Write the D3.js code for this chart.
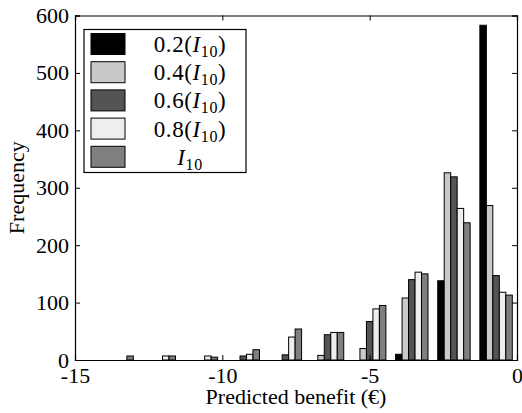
<!DOCTYPE html>
<html>
<head>
<meta charset="utf-8">
<script src="https://cdn.jsdelivr.net/npm/d3@7"></script>
<style>
  html, body { margin: 0; padding: 0; background: #fff; }
  svg { display: block; }
</style>
</head>
<body>
<svg id="chart" width="522" height="413" font-family="Liberation Serif, Times New Roman, serif"></svg>
<script>
// Histogram bin centres (predicted benefit, euro)
const binCenters = [-13.57, -12.14, -10.71, -9.29, -7.86, -6.43, -5.00, -3.57, -2.14, -0.71];
const binWidth = 10 / 7;

// Frequencies per bin for each threshold level
const seriesNames = ["0.2", "0.4", "0.6", "0.8", ""];
const freq02 = [0, 0, 0, 0, 0, 0, 0, 10, 138, 583];
const freq04 = [0, 0, 0, 0, 0, 8, 20, 108, 326, 269];
const freq06 = [0, 0, 0, 7, 9, 44, 67, 140, 319, 147];
const freq08 = [0, 7, 7, 10, 40, 48, 89, 153, 264, 118];
const freqI10 = [7, 7, 5, 18, 54, 48, 95, 150, 239, 113];
const seriesValues = [freq02, freq04, freq06, freq08, freqI10];
const seriesColors = ["#000000", "#c9c9c9", "#545454", "#eeeeee", "#7f7f7f"];

const xTicks = [-15, -10, -5, 0];
const yTicks = [0, 100, 200, 300, 400, 500, 600];

const W = 522, H = 413;
const margin = { left: 75, right: 5, top: 15.5, bottom: 53 };
const serif = "Liberation Serif, Times New Roman, serif";
const svg = d3.select("#chart");

const x = d3.scaleLinear().domain([-15, 0]).range([margin.left, W - margin.right]);
const y = d3.scaleLinear().domain([0, 600]).range([H - margin.bottom, margin.top]);

// grouped bars: group spans 0.77 of a bin, bars touch each other
const nSeries = seriesValues.length;
const barW = binWidth * 0.77 / nSeries;

const bars = svg.append("g");
seriesValues.forEach((vals, si) => {
  bars.selectAll(null)
    .data(vals.map((v, i) => ({ v, c: binCenters[i] })))
    .enter().append("rect")
    .attr("x", d => x(d.c + (si - (nSeries - 1) / 2) * barW - barW / 2))
    .attr("width", d => x(d.c + barW) - x(d.c))
    .attr("y", d => y(d.v))
    .attr("height", d => y(0) - y(d.v))
    .attr("fill", seriesColors[si])
    .attr("stroke", "#000")
    .attr("stroke-width", 1);
});

// axes with inward ticks on all four sides
const tickLen = 5;
const fs = 22;
const plain = d => String(d);
svg.append("g")
  .attr("transform", `translate(0,${y(0)})`)
  .call(d3.axisBottom(x).tickValues(xTicks).tickSize(-tickLen).tickPadding(7).tickFormat(plain))
  .call(g => g.selectAll("text").attr("dy", "0.71em"));
svg.append("g")
  .attr("transform", `translate(0,${y(600)})`)
  .call(d3.axisTop(x).tickValues(xTicks).tickSize(-tickLen).tickFormat(""));
svg.append("g")
  .attr("transform", `translate(${x(-15)},0)`)
  .call(d3.axisLeft(y).tickValues(yTicks).tickSize(-tickLen).tickPadding(6).tickFormat(plain));
svg.append("g")
  .attr("transform", `translate(${x(0)},0)`)
  .call(d3.axisRight(y).tickValues(yTicks).tickSize(-tickLen).tickFormat(""));
svg.selectAll("g").filter(function () { return this.hasAttribute("font-family"); })
  .attr("font-family", serif).attr("font-size", fs);
svg.selectAll(".tick text").style("font-family", serif).style("font-size", fs + "px");
svg.selectAll(".domain").attr("stroke", "#000").attr("stroke-width", 1.2);
svg.selectAll(".tick line").attr("stroke", "#000");

// axis titles
svg.append("text")
  .attr("x", (x(-15) + x(0)) / 2).attr("y", 404)
  .attr("text-anchor", "middle").attr("font-size", fs)
  .text("Predicted benefit (€)");
svg.append("text")
  .attr("transform", `translate(24,${(y(0) + y(600)) / 2}) rotate(-90)`)
  .attr("text-anchor", "middle").attr("font-size", fs)
  .text("Frequency");

// legend
const lg = svg.append("g");
lg.append("rect")
  .attr("x", 84).attr("y", 29.5).attr("width", 162).attr("height", 143)
  .attr("fill", "#fff").attr("stroke", "#000").attr("stroke-width", 1.2);
const rowY = i => 44 + i * 28.2;
seriesNames.forEach((name, i) => {
  lg.append("rect")
    .attr("x", 91).attr("y", rowY(i) - 10.5).attr("width", 34).attr("height", 21)
    .attr("fill", seriesColors[i]).attr("stroke", "#000").attr("stroke-width", 1);
  const t = lg.append("text")
    .attr("x", 190).attr("y", rowY(i) + 8)
    .attr("text-anchor", "middle").attr("font-size", 23)
    .attr("letter-spacing", 0.6);
  if (name) {
    t.append("tspan").text(name + "(");
    t.append("tspan").attr("font-style", "italic").text("I");
    t.append("tspan").attr("font-size", 16).attr("dy", 5).text("10");
    t.append("tspan").attr("dy", -5).text(")");
  } else {
    t.append("tspan").attr("font-style", "italic").text("I");
    t.append("tspan").attr("font-size", 16).attr("dy", 5).text("10");
  }
});
</script>
</body>
</html>
